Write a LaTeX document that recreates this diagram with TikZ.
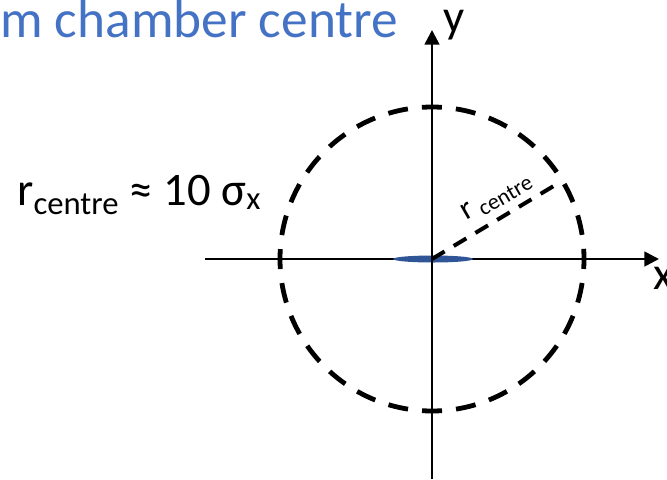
\documentclass[tikz,border=0pt]{standalone}
\usepackage{fontspec}
\setmainfont{Carlito}
\usetikzlibrary{arrows.meta,positioning}
\definecolor{titleblue}{RGB}{68,114,196}
\definecolor{beamblue}{RGB}{47,85,151}

\begin{document}
\begin{tikzpicture}[x=0.75pt,y=-0.75pt,
  axis/.style={line width=2pt,-{Triangle[length=11pt,width=11pt]}},
  circdash/.style={line width=3.6pt,dash pattern=on 15pt off 10.58pt,dash phase=7.5pt},
  raddash/.style={line width=3pt,dash pattern=on 11pt off 8pt},
  big/.style={font=\fontsize{35}{40}\selectfont}]
\useasboundingbox (0,0) rectangle (667,479);
\coordinate (o) at (432,259);
\coordinate (xl) at (205,259);
\coordinate (xr) at (659,259);
\coordinate (yb) at (432,479);
\coordinate (yt) at (432,30);
\coordinate (rend) at (557,184);
% labels
\node[font=\fontsize{40}{46}\selectfont, text=titleblue, anchor=base west, inner sep=0] (title) at (0,37) {m chamber centre};
\node[big, anchor=base west, inner sep=0] (rlabel) at (17,205) {r\textsubscript{centre} ≈ 10 σ\textsubscript{x}};
\node[big, inner sep=0] (ylab) at (454,25) {y};
\node[big, inner sep=0] (xlab) at (664,278) {x};
\node[font=\fontsize{24}{28}\selectfont, rotate=30, inner sep=0] (rc) at (497,197) {r\,\textsubscript{centre}};
% axes and beam
\draw[axis] (xl) -- (xr);
\fill[beamblue] (433,259) ellipse [x radius=40, y radius=3.5];
\draw[axis] (yb) -- (yt);
% chamber
\draw[circdash] (o) circle [radius=152];
\draw[raddash] (o) -- (rend);
\end{tikzpicture}
\end{document}
